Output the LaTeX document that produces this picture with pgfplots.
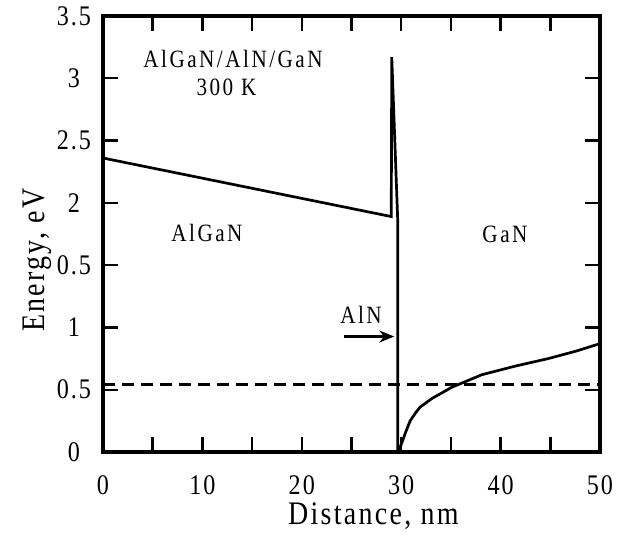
\documentclass[border=0pt]{standalone}
\usepackage{fontspec}
\setmainfont{Liberation Serif}[FakeStretch=0.85,LetterSpace=7]
\newfontfamily\annot{Liberation Serif}[FakeStretch=0.85,LetterSpace=10]
\usepackage{pgfplots}
\pgfplotsset{compat=1.18}
\usetikzlibrary{arrows.meta}
\begin{document}
\begin{tikzpicture}
\useasboundingbox (-103bp,-88bp) rectangle (517bp,452bp);
\begin{axis}[
  at={(0,0)}, anchor=south west,
  scale only axis, width=497bp, height=436bp,
  xmin=0, xmax=50, ymin=0, ymax=3.5,
  xtick={0,10,...,50}, minor xtick={5,15,...,45},
  ytick={0,0.5,...,3.5},
  yticklabels={0,0.5,1,0.5,2,2.5,3,3.5},
  tick align=inside, tick pos=both,
  major tick length=15bp, minor tick length=15bp,
  every tick/.style={line width=2.4bp, black},
  every minor tick/.style={line width=2.4bp, black},
  axis line style={line width=3.6bp},
  /pgf/number format/assume math mode=true,
  tick label style={font=\fontsize{28.5}{34}\selectfont},
  xticklabel style={anchor=base, yshift=-42bp},
  yticklabel style={anchor=center, xshift=-29bp},
  xlabel={Distance, nm}, ylabel={Energy, eV},
  label style={font=\fontsize{33}{38}\selectfont},
  xlabel style={at={(axis description cs:0.544,-0.167)}, anchor=base},
  ylabel style={at={(axis description cs:-0.133,0.44)}, anchor=center},
  clip=false,
]
\addplot[line width=2.7bp, black, line join=miter] coordinates {
 (0,2.36) (29.0,1.89) (29.05,3.17) (29.65,1.86) (29.65,0) (29.8,0)
 (30.0,0.06) (30.5,0.17) (30.9,0.25) (31.5,0.32) (31.9,0.36) (33.1,0.43)
 (35.1,0.52) (38.1,0.62) (41.5,0.69) (44.8,0.75) (47.6,0.81) (50,0.87)
};
\addplot[line width=2.5bp, black, dash pattern=on 12bp off 7bp] coordinates {(0,0.54) (50,0.54)};
\addplot[line width=2.4bp, black, -{Stealth[length=15bp,width=12bp]}] coordinates {(24.25,0.927) (29.3,0.927)};
\node[font=\annot\fontsize{25}{30}\selectfont, anchor=base] at (axis cs:13.08,3.09) {AlGaN/AlN/GaN};
\node[font=\annot\fontsize{25}{30}\selectfont, anchor=base] at (axis cs:12.42,2.86) {300 K};
\node[font=\annot\fontsize{25}{30}\selectfont, anchor=base] at (axis cs:10.46,1.69) {AlGaN};
\node[font=\annot\fontsize{25}{30}\selectfont, anchor=base] at (axis cs:40.44,1.68) {GaN};
\node[font=\annot\fontsize{25}{30}\selectfont, anchor=base] at (axis cs:25.96,1.03) {AlN};
\end{axis}
\end{tikzpicture}
\end{document}
